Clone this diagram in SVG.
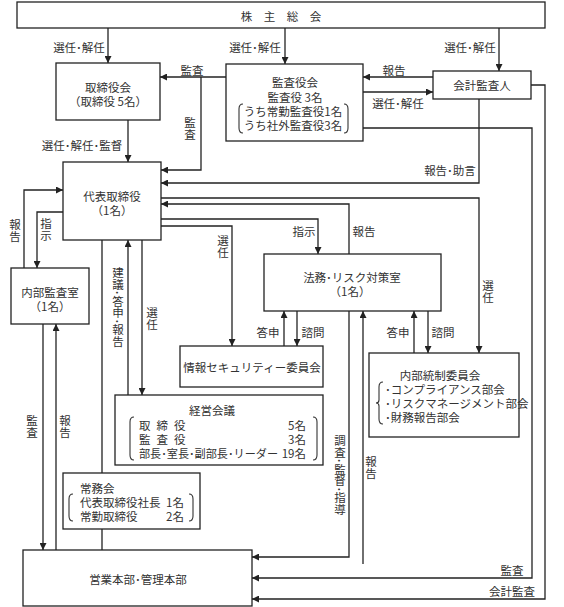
<svg xmlns="http://www.w3.org/2000/svg" width="564" height="607" viewBox="0 0 564 607">
<style>
.box{fill:#fff;stroke:#222;stroke-width:1.3}
.ln{fill:none;stroke:#222;stroke-width:1.3}
.br{fill:none;stroke:#333;stroke-width:1.1}
text{font-family:"Noto Sans CJK JP","Noto Sans CJK SC",sans-serif;font-size:11.5px;fill:#333;dominant-baseline:central}
.c{text-anchor:middle}
.e{text-anchor:end}
.v{writing-mode:vertical-rl;text-anchor:start}
</style>
<defs>
<marker id="a" viewBox="0 0 10 10" refX="10" refY="5" markerWidth="8" markerHeight="7" markerUnits="userSpaceOnUse" orient="auto"><path d="M0,0 L10,5 L0,10 z" fill="#222"/></marker>
</defs>
<rect width="564" height="607" fill="#fff"/>

<g id="connectors">
<path class="ln" marker-end="url(#a)" d="M108,28 V63"/>
<path class="ln" marker-end="url(#a)" d="M285,28 V64"/>
<path class="ln" marker-end="url(#a)" d="M499,28 V71"/>
<path class="ln" marker-end="url(#a)" d="M226,77 H160"/>
<path class="ln" marker-end="url(#a)" d="M201,77 V170 H161"/>
<path class="ln" marker-end="url(#a)" d="M433,77 H363"/>
<path class="ln" marker-end="url(#a)" d="M363,92 H433"/>
<path class="ln" marker-end="url(#a)" d="M128,120 V162"/>
<path class="ln" marker-end="url(#a)" d="M479,99 V183 H161"/>
<path class="ln" marker-end="url(#a)" d="M531,85 H545 V599 H252"/>
<path class="ln" marker-end="url(#a)" d="M363,128 H532 V578 H252"/>
<path class="ln" marker-end="url(#a)" d="M161,198 H479 V353"/>
<path class="ln" marker-end="url(#a)" d="M349,254 V204 H161"/>
<path class="ln" marker-end="url(#a)" d="M161,219 H318 V254"/>
<path class="ln" marker-end="url(#a)" d="M161,226 H232 V346"/>
<path class="ln" marker-end="url(#a)" d="M24,268 V190 H63"/>
<path class="ln" marker-end="url(#a)" d="M63,212 H37 V268"/>
<path class="ln" d="M102,240 V473 M102,529 V550"/>
<path class="ln" marker-end="url(#a)" d="M128,395 V240"/>
<path class="ln" marker-end="url(#a)" d="M142,240 V395"/>
<path class="ln" marker-end="url(#a)" d="M284,346 V311"/>
<path class="ln" marker-end="url(#a)" d="M297,311 V346"/>
<path class="ln" marker-end="url(#a)" d="M414,353 V311"/>
<path class="ln" marker-end="url(#a)" d="M428,311 V353"/>
<path class="ln" marker-end="url(#a)" d="M349,311 V557 H252"/>
<path class="ln" marker-end="url(#a)" d="M363,564 V311"/>
<path class="ln" marker-end="url(#a)" d="M43,324 V550"/>
<path class="ln" marker-end="url(#a)" d="M56,550 V324"/>
</g>

<g id="labels">
<text class="c" x="79" y="47">選任･解任</text>
<text class="c" x="255" y="47">選任･解任</text>
<text class="c" x="470" y="47">選任･解任</text>
<text class="c" x="192" y="70">監査</text>
<text class="c" x="394" y="70">報告</text>
<text class="c" x="398" y="103">選任･解任</text>
<text class="v" x="190" y="117">監査</text>
<text class="c" x="82" y="145">選任･解任･監督</text>
<text class="c" x="450" y="170">報告･助言</text>
<text class="c" x="304" y="231">指示</text>
<text class="c" x="364" y="231">報告</text>
<text class="v" x="223" y="235">選任</text>
<text class="v" x="15" y="219">報告</text>
<text class="v" x="46" y="218">指示</text>
<text class="v" x="118" y="267" textLength="80" lengthAdjust="spacing">建議･答申･報告</text>
<text class="v" x="152" y="307">選任</text>
<text class="v" x="32" y="415">監査</text>
<text class="v" x="65" y="415">報告</text>
<text class="c" x="268" y="332">答申</text>
<text class="c" x="313" y="332">諮問</text>
<text class="c" x="398" y="332">答申</text>
<text class="c" x="443" y="332">諮問</text>
<text class="v" x="488" y="280">選任</text>
<text class="v" x="340" y="435" textLength="80" lengthAdjust="spacing">調査･監督･指導</text>
<text class="v" x="371" y="456">報告</text>
<text class="c" x="512" y="570">監査</text>
<text class="c" x="512" y="591">会計監査</text>
</g>

<g id="shareholders">
<rect class="box" x="17" y="2" width="528" height="26"/>
<text class="c" x="281" y="16">株　主　総　会</text>
</g>

<g id="board">
<rect class="box" x="56" y="63" width="104" height="57"/>
<text class="c" x="108" y="87">取締役会</text>
<text class="c" x="108" y="101">（取締役 5名）</text>
</g>

<g id="auditors">
<rect class="box" x="226" y="64" width="137" height="77"/>
<text class="c" x="295" y="82">監査役会</text>
<text class="c" x="295" y="97">監査役 3名</text>
<text class="c" x="293" y="111">うち常勤監査役1名</text>
<text class="c" x="293" y="125">うち社外監査役3名</text>
<path class="br" d="M243,104 Q239,104 239,109 V128 Q239,133 243,133"/>
<path class="br" d="M344,104 Q348,104 348,109 V128 Q348,133 344,133"/>
</g>

<g id="accounting-auditor">
<rect class="box" x="433" y="71" width="98" height="28"/>
<text class="c" x="482" y="85">会計監査人</text>
</g>

<g id="president">
<rect class="box" x="63" y="162" width="98" height="78"/>
<text class="c" x="112" y="196">代表取締役</text>
<text class="c" x="112" y="210">（1名）</text>
</g>

<g id="internal-audit">
<rect class="box" x="11" y="268" width="78" height="56"/>
<text class="c" x="50" y="292">内部監査室</text>
<text class="c" x="50" y="306">（1名）</text>
</g>

<g id="legal-risk">
<rect class="box" x="264" y="254" width="177" height="57"/>
<text class="c" x="352" y="277">法務･リスク対策室</text>
<text class="c" x="350" y="291">（1名）</text>
</g>

<g id="infosec">
<rect class="box" x="180" y="346" width="143" height="41"/>
<text class="c" x="252" y="367">情報セキュリティー委員会</text>
</g>

<g id="internal-control">
<rect class="box" x="369" y="353" width="150" height="84"/>
<text class="c" x="440" y="375">内部統制委員会</text>
<text x="385" y="389">･コンプライアンス部会</text>
<text x="385" y="403">･リスクマネージメント部会</text>
<text x="385" y="417">･財務報告部会</text>
<path class="br" d="M383,382 Q379,382 379,387 V400 Q379,403 376,403 Q379,403 379,406 V419 Q379,424 383,424"/>
</g>

<g id="management-meeting">
<rect class="box" x="115" y="395" width="208" height="70"/>
<text class="c" x="212" y="410">経営会議</text>
<text x="139" y="425" letter-spacing="6">取締役</text>
<text x="139" y="439" letter-spacing="6">監査役</text>
<text x="139" y="453" textLength="139" lengthAdjust="spacingAndGlyphs">部長･室長･副部長･リーダー</text>
<text class="e" x="306" y="425">5名</text>
<text class="e" x="306" y="439">3名</text>
<text class="e" x="306" y="453">19名</text>
<path class="br" d="M134,417 Q130,417 130,422 V455 Q130,460 134,460"/>
<path class="br" d="M313,417 Q317,417 317,422 V455 Q317,460 313,460"/>
</g>

<g id="executive-committee">
<rect class="box" x="63" y="473" width="137" height="56"/>
<text x="80" y="488">常務会</text>
<text x="80" y="502">代表取締役社長</text>
<text class="e" x="184" y="502">1名</text>
<text x="80" y="516">常勤取締役</text>
<text class="e" x="184" y="516">2名</text>
<path class="br" d="M73,494 Q69,494 69,499 V516 Q69,521 73,521"/>
<path class="br" d="M189,494 Q193,494 193,499 V516 Q193,521 189,521"/>
</g>

<g id="operations">
<rect class="box" x="23" y="550" width="229" height="56"/>
<text class="c" x="138" y="579">営業本部･管理本部</text>
</g>
</svg>
